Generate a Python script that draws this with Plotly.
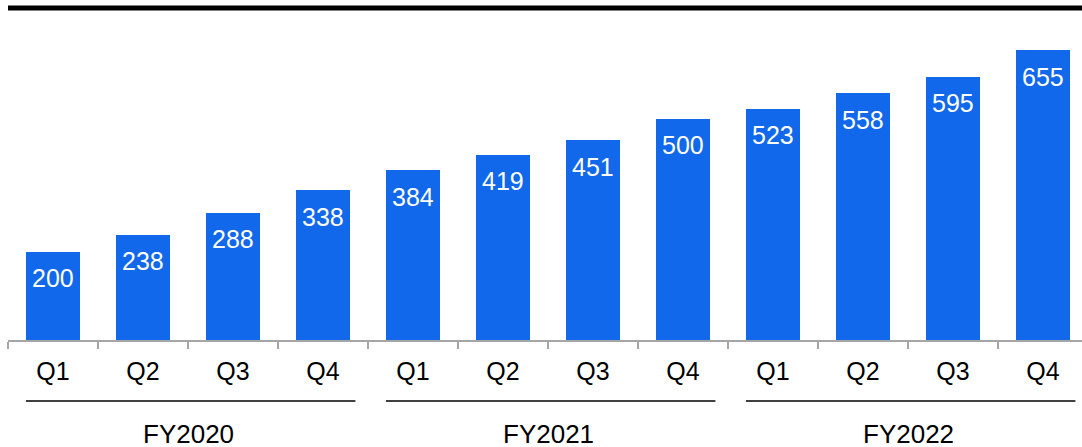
import plotly.graph_objects as go

quarters = ["Q1", "Q2", "Q3", "Q4"] * 3
values = [200, 238, 288, 338, 384, 419, 451, 500, 523, 558, 595, 655]
years = ["FY2020", "FY2021", "FY2022"]

FONT = "Liberation Sans, Arial, Helvetica, sans-serif"
BLUE = "#1268EB"

x = list(range(len(values)))

fig = go.Figure()
fig.add_trace(go.Bar(
    x=x, y=values, width=0.6, marker=dict(color=BLUE, line=dict(width=0)),
    hoverinfo="skip",
))

# value labels inside bars
for xi, v in zip(x, values):
    fig.add_annotation(x=xi, y=v, xref="x", yref="y", text=str(v), showarrow=False,
                       yanchor="middle", yshift=-26.5,
                       font=dict(family=FONT, size=25, color="white"))

# year grouping lines and labels
for gi, yr in enumerate(years):
    i0, i1 = gi * 4, gi * 4 + 3
    fig.add_shape(type="line", xref="x", yref="paper", x0=i0 - 0.3, x1=i1 + 0.36,
                  y0=-0.184, y1=-0.184, line=dict(color="black", width=1.5))
    fig.add_annotation(x=(i0 + i1) / 2, y=-0.282, xref="x", yref="paper", text=yr,
                       showarrow=False, yanchor="middle",
                       font=dict(family=FONT, size=26, color="black"))

# top rule
fig.add_shape(type="line", xref="paper", yref="paper", x0=0, x1=1, y0=1, y1=1,
              line=dict(color="black", width=5))

fig.update_layout(
    width=1082, height=447,
    margin=dict(l=8, r=0, t=8, b=107),
    paper_bgcolor="white", plot_bgcolor="white",
    showlegend=False, bargap=0,
    font=dict(family=FONT, size=25, color="black"),
    xaxis=dict(
        range=[-0.5, -0.5 + 1074 / 90], tickmode="array", tickvals=x, ticktext=quarters,
        showline=True, linecolor="#a6a6a6", linewidth=2, ticks="", showgrid=False,
        zeroline=False, tickfont=dict(family=FONT, size=25, color="black"),
        ticklabelstandoff=8,
        minor=dict(tickmode="array", tickvals=[i - 0.5 for i in range(len(values) + 1)],
                   ticks="outside", ticklen=7, tickcolor="#a6a6a6", tickwidth=2, showgrid=False),
        fixedrange=True,
    ),
    yaxis=dict(range=[0, 332 / 0.4425], visible=False, showgrid=False, zeroline=False,
               fixedrange=True),
)

fig.write_html("out.html", config={"displayModeBar": False},
               post_script="document.body.style.margin='0';")
